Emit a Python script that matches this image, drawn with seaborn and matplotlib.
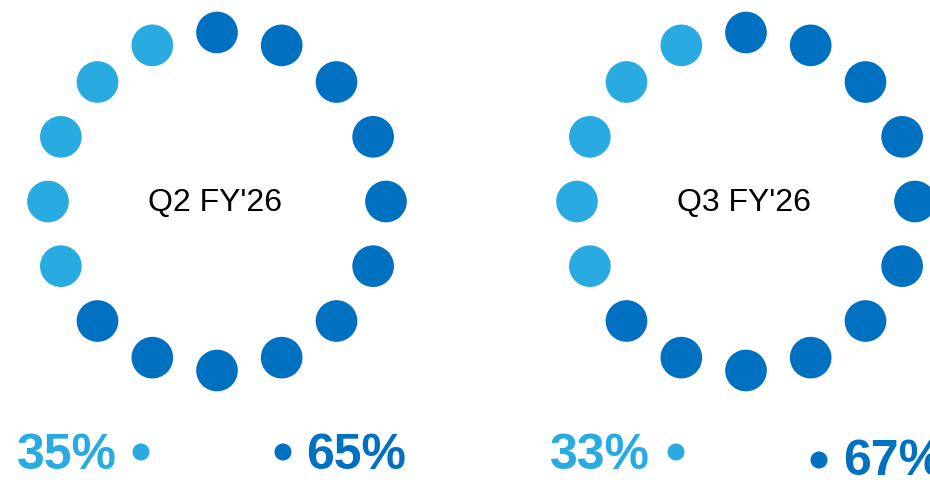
import numpy as np
import pandas as pd
import matplotlib
matplotlib.use("Agg")
import matplotlib.pyplot as plt
import seaborn as sns

# Data
periods = ["Q2 FY'26", "Q3 FY'26"]
share_a = [35, 33]   # light blue share (%)
share_b = [65, 67]   # dark blue share (%)

LIGHT = "#29ABE2"
DARK = "#0070C0"
N_DOTS = 16

sns.set_theme(style="white")
plt.rcParams['font.family'] = ['Liberation Sans', 'DejaVu Sans']

fig = plt.figure(figsize=(9.30, 4.81), dpi=100)
ax = fig.add_axes([0, 0, 1, 1])

centers = [(217, 202.5), (746, 202.5)]
radius = 169

rows = []
for (cx, cy), pa in zip(centers, share_a):
    n_light = int(pa / 100 * N_DOTS)
    for k in range(N_DOTS):
        th = np.deg2rad(k * 360 / N_DOTS)
        rows.append({
            "x": cx + radius * np.sin(th),
            "y": cy - radius * np.cos(th),
            "group": "a" if k >= N_DOTS - n_light else "b",
        })
df = pd.DataFrame(rows)

sns.scatterplot(data=df, x="x", y="y", hue="group",
                palette={"a": LIGHT, "b": DARK}, s=900, linewidth=0,
                legend=False, ax=ax)

# Legend dots
leg_rows = [
    {"x": 141, "y": 453, "group": "a"},
    {"x": 283, "y": 453, "group": "b"},
    {"x": 676, "y": 453, "group": "a"},
    {"x": 819, "y": 461, "group": "b"},
]
sns.scatterplot(data=pd.DataFrame(leg_rows), x="x", y="y", hue="group",
                palette={"a": LIGHT, "b": DARK}, s=150, linewidth=0,
                legend=False, ax=ax)

for (cx, cy), lab in zip(centers, periods):
    ax.text(cx - 2, cy + 1, lab, ha="center", va="center", fontsize=23,
            color="black")

# Percent labels
ax.text(117, 456, f"{share_a[0]}%", ha="right", va="center", fontsize=36,
        fontweight="bold", color=LIGHT)
ax.text(306, 456, f"{share_b[0]}%", ha="left", va="center", fontsize=36,
        fontweight="bold", color=DARK)
ax.text(650, 456, f"{share_a[1]}%", ha="right", va="center", fontsize=36,
        fontweight="bold", color=LIGHT)
ax.text(843, 462, f"{share_b[1]}%", ha="left", va="center", fontsize=36,
        fontweight="bold", color=DARK)

ax.set_xlim(0, 930)
ax.set_ylim(481, 0)
ax.axis("off")

fig.savefig("out.png", dpi=100, facecolor="white")
